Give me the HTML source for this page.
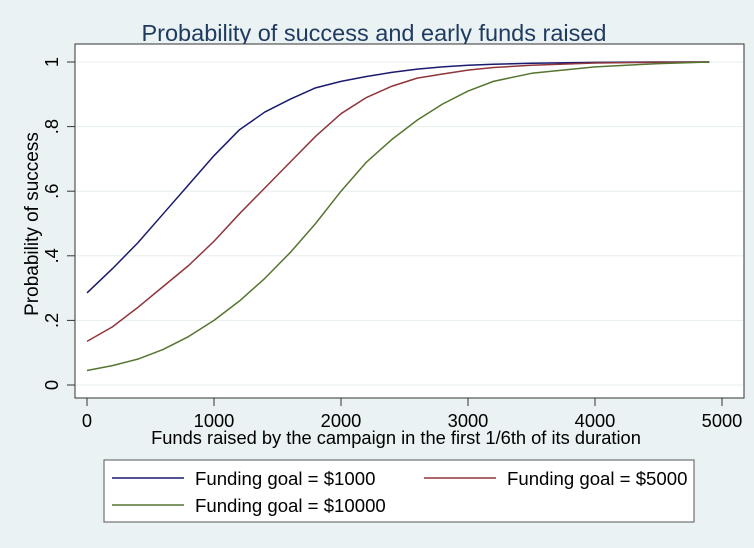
<!DOCTYPE html>
<html><head><meta charset="utf-8"><style>
body{margin:0;background:#eaf2f3;}
svg{display:block;font-family:"Liberation Sans",sans-serif;}
</style></head><body>
<svg id="c" width="754" height="548">
<rect x="0" y="0" width="754" height="548" fill="#eaf2f3"/>
<text x="374" y="41" text-anchor="middle" font-size="23.5" fill="#1e3a5f">Probability of success and early funds  raised</text>
<rect x="75" y="44" width="669" height="354" fill="#fff" stroke="#333" stroke-width="1"/>
<g id="grid"></g><g id="axes"></g><g id="lines"></g>
<text x="396" y="444" text-anchor="middle" font-size="18.3" fill="#000">Funds raised by the campaign in the first 1/6th of its duration</text>
<text transform="translate(38,224) rotate(-90)" text-anchor="middle" font-size="19" fill="#000">Probability of success</text>
<rect x="104" y="460" width="590" height="62" fill="#fff" stroke="#555"/>
<g><line x1="112" y1="478" x2="184" y2="478" stroke="#1a1a6e" stroke-width="1.5"/><text x="195" y="485" font-size="18.6">Funding goal = $1000</text></g>
<g><line x1="424" y1="478" x2="496" y2="478" stroke="#90353b" stroke-width="1.5"/><text x="507" y="485" font-size="18.6">Funding goal = $5000</text></g>
<g><line x1="112" y1="505" x2="184" y2="505" stroke="#55752f" stroke-width="1.5"/><text x="195" y="512" font-size="18.6">Funding goal = $10000</text></g>
</svg>
<script>
const xTicks=[0,1000,2000,3000,4000,5000];
const yTicks=[0,0.2,0.4,0.6,0.8,1];
const yTickLabels=["0",".2",".4",".6",".8","1"];
const funds=[0,200,400,600,800,1000,1200,1400,1600,1800,2000,2200,2400,2600,2800,3000,3200,3500,4000,4500,4900];
const goal1000=[.285,.36,.44,.53,.62,.71,.79,.845,.885,.92,.94,.955,.968,.978,.985,.99,.993,.996,.999,1,1];
const goal5000=[.135,.18,.24,.305,.37,.445,.53,.61,.69,.77,.84,.89,.925,.95,.963,.975,.983,.99,.997,.999,1];
const goal10000=[.045,.06,.08,.11,.15,.2,.26,.33,.41,.5,.6,.69,.76,.82,.87,.91,.94,.965,.985,.995,1];
const X=v=>87+v*0.127, Y=v=>385-v*323;
const ns="http://www.w3.org/2000/svg";
function mk(t,a,p){const e=document.createElementNS(ns,t);for(const k in a)e.setAttribute(k,a[k]);p.appendChild(e);return e;}
const grid=document.getElementById('grid'),axes=document.getElementById('axes'),lines=document.getElementById('lines');
yTicks.forEach((v,i)=>{
 const g=mk('line',{x1:76,x2:743,y1:Y(v),y2:Y(v),stroke:'#e6eeee','stroke-width':1},grid);
 
 
 const t=mk('line',{x1:67,x2:75,y1:Y(v),y2:Y(v),stroke:'#333'},axes);
 
 
 const l=mk('text',{transform:`translate(58,${Y(v)}) rotate(-90)`,'text-anchor':'middle','font-size':18.3},axes);
 l.textContent=yTickLabels[i];
 
 
});
xTicks.forEach(v=>{
 const t=mk('line',{x1:X(v),x2:X(v),y1:398,y2:406,stroke:'#333'},axes);
 
 
 const l=mk('text',{x:X(v),y:427,'text-anchor':'middle','font-size':18.3},axes);
 l.textContent=v;
 
 
});
[[goal1000,'#1a1a6e','line-goal-1000'],[goal5000,'#90353b','line-goal-5000'],[goal10000,'#55752f','line-goal-10000']].forEach(([s,c,n])=>{
 const p=mk('polyline',{points:funds.map((f,i)=>X(f)+','+Y(s[i])).join(' '),fill:'none',stroke:c,'stroke-width':1.5,'stroke-linejoin':'round'},lines);
 
 
});
</script>
</body></html>
